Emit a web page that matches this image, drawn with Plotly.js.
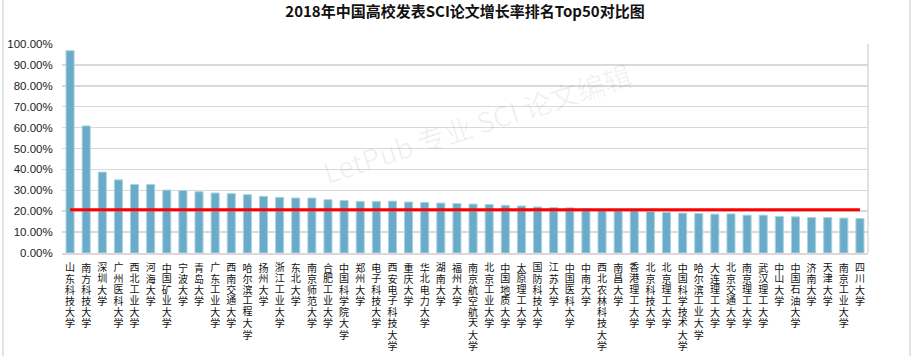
<!DOCTYPE html>
<html>
<head>
<meta charset="utf-8">
<script src="https://cdn.plot.ly/plotly-3.0.1.min.js"></script>
<style>
  html, body { margin: 0; padding: 0; background: #fff; }
  #wrap { position: relative; width: 911px; height: 356px; overflow: hidden; }
  #chart { position: absolute; left: 0; top: 0; width: 911px; height: 356px; }
  #frame { position: absolute; left: 2px; top: 0; width: 905px; height: 356px;
           border-left: 2px solid #e3e3e3; border-right: 2px solid #e3e3e3; pointer-events: none; }
</style>
</head>
<body>
<div id="wrap"><div id="chart"></div><div id="frame"></div></div>
<script>
const chartTitle = '2018年中国高校发表SCI论文增长率排名Top50对比图';

const universities = [
  '山东科技大学','南方科技大学','深圳大学','广州医科大学','西北工业大学',
  '河海大学','中国矿业大学','宁波大学','青岛大学','广东工业大学',
  '西南交通大学','哈尔滨工程大学','扬州大学','浙江工业大学','东北大学',
  '南京师范大学','合肥工业大学','中国科学院大学','郑州大学','电子科技大学',
  '西安电子科技大学','重庆大学','华北电力大学','湖南大学','福州大学',
  '南京航空航天大学','北京工业大学','中国地质大学','太原理工大学','国防科技大学',
  '江苏大学','中国医科大学','中南大学','西北农林科技大学','南昌大学',
  '香港理工大学','北京科技大学','北京理工大学','中国科学技术大学','哈尔滨工业大学',
  '大连理工大学','北京交通大学','南京理工大学','武汉理工大学','中山大学',
  '中国石油大学','济南大学','天津大学','南京工业大学','四川大学'
];

const growthRates = [
  0.968, 0.608, 0.387, 0.350, 0.328, 0.328, 0.301, 0.299, 0.293, 0.287,
  0.284, 0.279, 0.271, 0.266, 0.263, 0.263, 0.255, 0.251, 0.247, 0.247,
  0.248, 0.244, 0.242, 0.239, 0.237, 0.234, 0.232, 0.228, 0.225, 0.220,
  0.218, 0.216, 0.211, 0.206, 0.205, 0.205, 0.199, 0.194, 0.191, 0.189,
  0.186, 0.187, 0.181, 0.181, 0.175, 0.173, 0.170, 0.170, 0.167, 0.165
];

const referenceRate = 0.207;
const referenceLine = universities.map(() => referenceRate);

const yTickVals = [0, 0.1, 0.2, 0.3, 0.4, 0.5, 0.6, 0.7, 0.8, 0.9, 1.0];

const watermarkText = 'LetPub 专业 SCI 论文编辑';

const labelFont = { family: '"Noto Sans CJK SC", sans-serif', size: 10, color: '#111' };
const charPitch = 11.1;     // vertical spacing of stacked label characters (px)
const labelTopY = 262;      // top of label columns (px from top of page)

// one annotation per character, placed on the category by the x axis
const labelAnnotations = [];
const labelMeta = [];
universities.forEach((name, i) => {
  Array.from(name).forEach((ch, j) => {
    labelAnnotations.push({
      x: name, y: 0, xref: 'x', yref: 'paper',
      text: ch, showarrow: false,
      xanchor: 'center', yanchor: 'top',
      yshift: -(8 + j * charPitch),
      borderpad: 0,
      font: labelFont
    });
    labelMeta.push({ cat: i, row: j });
  });
});

const traces = [
  {
    type: 'bar',
    x: universities,
    y: growthRates,
    marker: { color: '#69abc8', line: { color: '#a9d2e2', width: 1 } },
    hoverinfo: 'x+y'
  },
  {
    type: 'scatter',
    mode: 'lines',
    x: universities,
    y: referenceLine,
    line: { color: '#ff0000', width: 3 },
    hoverinfo: 'skip'
  }
];

const layout = {
  width: 911, height: 356,
  margin: { l: 62, r: 43, t: 44, b: 103, pad: 0 },
  paper_bgcolor: '#ffffff', plot_bgcolor: '#ffffff',
  showlegend: false,
  bargap: 0.5,
  title: {
    text: chartTitle,
    x: 0.5, xanchor: 'center', xref: 'paper',
    y: 1, yref: 'container', yanchor: 'top', pad: { t: 6 },
    font: { family: '"Noto Sans CJK SC", sans-serif', size: 15, color: '#111', weight: 'bold' }
  },
  xaxis: {
    type: 'category',
    showticklabels: false,
    automargin: false,
    showgrid: false,
    zeroline: false,
    showline: true, linecolor: '#d9d9d9', linewidth: 1.5,
    ticks: '',
    range: [-0.5, universities.length - 0.5]
  },
  yaxis: {
    range: [0, 1],
    tickvals: yTickVals,
    tickformat: '.2%',
    automargin: false,
    showgrid: true, gridcolor: '#d9d9d9', gridwidth: 1.5,
    zeroline: false,
    showline: false,
    ticks: 'outside', ticklen: 6, tickcolor: 'rgba(0,0,0,0)',
    tickfont: { family: '"Liberation Sans", Arial, sans-serif', size: 11.5, color: '#222' }
  },
  shapes: [
    { type: 'line', xref: 'paper', yref: 'paper', x0: 1, x1: 1, y0: 0, y1: 1,
      line: { color: '#d9d9d9', width: 1.5 } }
  ],
  annotations: labelAnnotations.concat([
    {
      xref: 'paper', yref: 'paper', x: 0.515, y: 0.62,
      text: watermarkText, showarrow: false, textangle: -18,
      font: { family: '"Noto Sans CJK SC", sans-serif', size: 28, color: 'rgba(0,0,0,0.06)' }
    }
  ])
};

// Render each label character in vertical writing mode so its box is one
// character tall, then align it on its category column.
function verticalLabelChars() {
  const gd = document.getElementById('chart');
  const fl = gd._fullLayout;
  const xa = fl.xaxis;
  const pageRect = gd.getBoundingClientRect();
  const texts = gd.querySelectorAll('.annotation text.annotation-text');
  labelMeta.forEach((m, k) => {
    const t = texts[k];
    if (!t) return;
    t.style.writingMode = 'vertical-rl';
    t.style.textOrientation = 'upright';
    t.setAttribute('text-anchor', 'start');
    const r = t.getBoundingClientRect();
    const cx = fl._size.l + xa.l2p(m.cat);
    const top = labelTopY + m.row * charPitch;
    const dx = cx - (r.left - pageRect.left + r.width / 2);
    const dy = top - (r.top - pageRect.top);
    t.setAttribute('x', (parseFloat(t.getAttribute('x') || '0') + dx).toFixed(2));
    t.setAttribute('y', (parseFloat(t.getAttribute('y') || '0') + dy).toFixed(2));
  });
}

Plotly.newPlot('chart', traces, layout, { displayModeBar: false, staticPlot: true })
  .then(verticalLabelChars);
</script>
</body>
</html>
